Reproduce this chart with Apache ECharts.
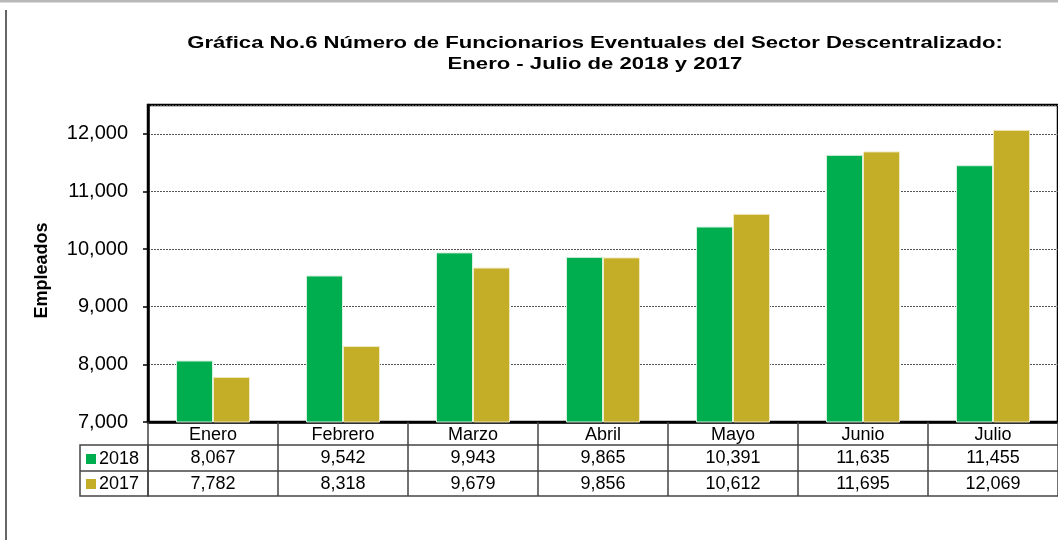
<!DOCTYPE html>
<html>
<head>
<meta charset="UTF-8">
<title>Gráfica No.6</title>
<script type="text/javascript" src="https://cdn.jsdelivr.net/npm/echarts@6/dist/echarts.min.js"></script>
</head>
<body style="margin:0">
<div id="main" style="width:1058px;height:540px"></div>

<script type="text/javascript">
	var meses=['Enero','Febrero','Marzo','Abril','Mayo','Junio','Julio'];
	var datos2018=[8067,9542,9943,9865,10391,11635,11455];
	var datos2017=[7782,8318,9679,9856,10612,11695,12069];
	var ticksY=[7000,8000,9000,10000,11000,12000];

	var fuente='Arial, "Liberation Sans", sans-serif';
	var lineaTabla='#444';
	function fmt(v){ return Number(v).toLocaleString('en-US'); }

	// ejes de la tabla de datos: uno por fila
	function ejeFila(offset, valores){
	  return {
	    type:'category', data:meses, gridIndex:0, position:'bottom', offset:offset,
	    axisLine:{show:true, lineStyle:{color:lineaTabla, width:1.5}},
	    axisTick:{show:false},
	    axisLabel:{show:!!valores, interval:0, margin:4, color:'#000', fontSize:18, fontFamily:fuente,
	      formatter:function(v,i){ return valores ? fmt(valores[i]) : ''; }}
	  };
	}

	var mychart=echarts.init(document.getElementById("main"));
	var option={
	  animation:false,
	  legend:{
	    data:['2018','2017'], orient:'vertical', left:81, top:445, itemGap:7,
	    itemWidth:10, itemHeight:10, icon:'rect', itemStyle:{borderWidth:0},
	    textStyle:{fontFamily:fuente, fontSize:18, color:'#000', padding:[0,0,0,-2]}
	  },
	  grid:{left:148, top:105, width:917, height:317, show:true, borderColor:'#000', borderWidth:2.5},
	  xAxis:[
	    {
	      type:'category', data:meses, gridIndex:0, position:'bottom',
	      axisLine:{show:true, lineStyle:{color:'#000', width:2.5}},
	      axisTick:{show:true, length:74, alignWithLabel:false, lineStyle:{color:lineaTabla, width:1.5}},
	      axisLabel:{interval:0, margin:4, color:'#000', fontSize:18, fontFamily:fuente}
	    },
	    ejeFila(23, datos2018),
	    ejeFila(49, datos2017),
	    ejeFila(74, null)
	  ],
	  yAxis:{
	    type:'value', min:7000, max:12500, interval:1000,
	    name:'Empleados', nameLocation:'middle', nameGap:97,
	    nameTextStyle:{fontFamily:fuente, fontSize:18, fontWeight:'bold', color:'#000', padding:[0,14,0,0]},
	    axisLine:{show:true, lineStyle:{color:'#000', width:2.5}},
	    axisTick:{show:true, length:5, lineStyle:{color:'#000', width:1.5}},
	    axisLabel:{margin:20, color:'#000', fontSize:20, fontFamily:fuente, showMaxLabel:false,
	      formatter:function(v){ return ticksY.indexOf(v)>=0 ? fmt(v) : ''; }},
	    splitLine:{show:true, lineStyle:{color:'#555', width:1, type:[2,1]}}
	  },
	  graphic:[
	    {type:'line', shape:{x1:0, y1:1, x2:1058, y2:1}, style:{stroke:'#b8b8b8', lineWidth:3}},
	    {type:'line', shape:{x1:6, y1:10, x2:6, y2:540}, style:{stroke:'#333', lineWidth:1.5}},
	    {type:'rect', shape:{x:80, y:445, width:68, height:51}, style:{fill:'none', stroke:lineaTabla, lineWidth:1.5}},
	    {type:'line', shape:{x1:80, y1:471, x2:148, y2:471}, style:{stroke:lineaTabla, lineWidth:1.5}},
	    // titulo (texto ensanchado como en el original)
	    {type:'text', x:595, y:43, scaleX:1.3, style:{
	      text:'Gráfica No.6 Número de Funcionarios Eventuales del Sector Descentralizado:',
	      font:'bold 17px '+fuente, fill:'#000', align:'center', verticalAlign:'middle'}},
	    {type:'text', x:595, y:64, scaleX:1.3, style:{
	      text:'Enero - Julio de 2018 y 2017',
	      font:'bold 17px '+fuente, fill:'#000', align:'center', verticalAlign:'middle'}}
	  ],
	  series:[
	    {name:'2018', type:'bar', data:datos2018, barWidth:37, barGap:'0%',
	      itemStyle:{color:'#00AE4F', borderColor:'#d8f0de', borderWidth:1}},
	    {name:'2017', type:'bar', data:datos2017, barWidth:37, barGap:'0%',
	      itemStyle:{color:'#C4AE27', borderColor:'#efe9c4', borderWidth:1}}
	  ]
	};
	mychart.setOption(option);
</script>
</body>
</html>
